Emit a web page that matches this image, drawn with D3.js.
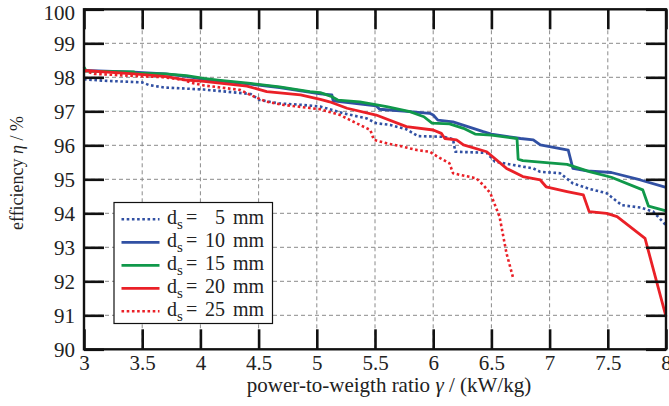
<!DOCTYPE html>
<html><head><meta charset="utf-8">
<script src="https://cdn.jsdelivr.net/npm/d3@7"></script>
<style>
html,body{margin:0;padding:0;background:#fff;}
svg{display:block;}
text{font-family:'Liberation Serif';}
</style></head>
<body><svg id="chart" width="669" height="406"></svg>
<script>
const xTicks = [3,3.5,4,4.5,5,5.5,6,6.5,7,7.5,8];
const yTicks = [90,91,92,93,94,95,96,97,98,99,100];
const seriesNames = ["5","10","15","20","25"];

const ds5 = [[3.00,97.94],[3.17,97.90],[3.50,97.85],[3.56,97.77],[3.69,97.70],[4.03,97.64],[4.43,97.51],[4.51,97.33],[4.68,97.23],[4.83,97.20],[5.03,97.14],[5.11,97.06],[5.23,96.94],[5.43,96.79],[5.51,96.65],[5.63,96.60],[5.77,96.47],[5.87,96.27],[6.09,96.25],[6.17,96.18],[6.19,95.81],[6.46,95.78],[6.53,95.52],[6.69,95.42],[6.86,95.32],[6.92,95.22],[7.09,95.18],[7.20,94.88],[7.35,94.71],[7.49,94.59],[7.62,94.24],[7.78,94.17],[7.89,94.05],[8.00,93.65]];
const ds10 = [[3.00,98.20],[3.43,98.15],[3.70,98.10],[3.88,98.03],[4.03,97.94],[4.43,97.80],[4.68,97.70],[5.03,97.51],[5.13,97.48],[5.14,97.31],[5.51,97.16],[5.54,97.06],[5.80,96.99],[5.97,96.94],[6.00,96.89],[6.04,96.74],[6.17,96.69],[6.43,96.40],[6.50,96.33],[6.75,96.20],[6.86,96.16],[6.92,96.01],[7.16,95.86],[7.20,95.32],[7.32,95.25],[7.53,95.20],[7.78,94.98],[8.00,94.76]];
const ds15 = [[3.00,98.30],[3.02,98.18],[3.43,98.16],[3.44,98.12],[3.70,98.10],[3.88,98.05],[4.03,97.97],[4.15,97.92],[4.43,97.82],[4.68,97.72],[4.94,97.58],[5.03,97.55],[5.13,97.43],[5.18,97.33],[5.37,97.28],[5.60,97.14],[5.80,96.99],[5.92,96.84],[5.99,96.65],[6.14,96.63],[6.26,96.50],[6.36,96.33],[6.50,96.30],[6.72,96.20],[6.73,95.59],[6.77,95.55],[6.97,95.49],[7.15,95.44],[7.35,95.22],[7.53,95.06],[7.80,94.69],[7.85,94.21],[8.00,94.07]];
const ds20 = [[3.00,98.20],[3.43,98.10],[3.71,98.02],[3.88,97.92],[4.03,97.88],[4.40,97.74],[4.57,97.58],[4.86,97.48],[5.03,97.35],[5.11,97.28],[5.26,97.09],[5.51,96.89],[5.77,96.55],[6.00,96.45],[6.07,96.35],[6.10,96.20],[6.20,96.16],[6.26,96.01],[6.46,95.81],[6.63,95.32],[6.77,95.08],[6.92,94.98],[6.97,94.78],[7.15,94.64],[7.29,94.54],[7.34,94.05],[7.49,94.00],[7.58,93.90],[7.82,93.26],[8.00,90.96]];
const ds25 = [[3.00,98.19],[3.09,98.10],[3.43,98.04],[3.69,98.00],[3.86,97.92],[3.92,97.84],[4.03,97.76],[4.34,97.63],[4.43,97.48],[4.57,97.28],[4.71,97.19],[5.03,97.06],[5.20,96.89],[5.34,96.65],[5.46,96.45],[5.49,96.16],[5.60,96.06],[5.74,95.96],[5.86,95.86],[5.97,95.81],[6.06,95.62],[6.14,95.47],[6.17,95.18],[6.23,95.13],[6.37,95.03],[6.43,94.83],[6.49,94.60],[6.57,93.90],[6.63,92.82],[6.69,92.06]];

const seriesData = [ds5, ds10, ds15, ds20, ds25];
const colors = ["#3150a3","#3150a3","#10984a","#ea2027","#ea2027"];
const dotted = [true,false,false,false,true];

const FONT = "'Liberation Serif'";
const svg = d3.select("#chart");
const L = 84, R = 666, T = 9.3, B = 349.3;
const x = d3.scaleLinear().domain([3,8]).range([L,R]);
const y = d3.scaleLinear().domain([90,100]).range([B,T]);

// grid
const grid = svg.append("g");
grid.selectAll("line.gx").data(xTicks.slice(1,-1)).enter().append("line")
  .attr("x1",d=>x(d)).attr("x2",d=>x(d)).attr("y1",T).attr("y2",B)
  .attr("stroke","#8a8a8a").attr("stroke-width",1).attr("stroke-dasharray","4,3");
grid.selectAll("line.gy").data(yTicks.slice(1,-1)).enter().append("line")
  .attr("y1",d=>y(d)).attr("y2",d=>y(d)).attr("x1",L).attr("x2",R)
  .attr("stroke","#8a8a8a").attr("stroke-width",1).attr("stroke-dasharray","4,3");

// series
const line = d3.line().x(d=>x(d[0])).y(d=>y(d[1]));
const plot = svg.append("g");
seriesData.forEach((s,i)=>{
  plot.append("path").datum(s).attr("d",line).attr("fill","none")
    .attr("stroke",colors[i]).attr("stroke-width",dotted[i]?2.6:2.8)
    .attr("stroke-linejoin","round")
    .attr("stroke-dasharray",dotted[i]?"2.6,2.6":null);
});

// axes
const fmt = d=>String(d);
const axL = svg.append("g").attr("transform",`translate(${L},0)`)
  .call(d3.axisLeft(y).tickValues(yTicks).tickFormat(fmt).tickSizeInner(-20).tickSizeOuter(0).tickPadding(9));
const axB = svg.append("g").attr("transform",`translate(0,${B})`)
  .call(d3.axisBottom(x).tickValues(xTicks).tickFormat(fmt).tickSizeInner(-20).tickSizeOuter(0).tickPadding(6));
const axR = svg.append("g").attr("transform",`translate(${R},0)`)
  .call(d3.axisRight(y).tickValues(yTicks).tickFormat("").tickSizeInner(-20).tickSizeOuter(0));
const axT = svg.append("g").attr("transform",`translate(0,${T})`)
  .call(d3.axisTop(x).tickValues(xTicks).tickFormat("").tickSizeInner(-20).tickSizeOuter(0));
[axL,axB,axR,axT].forEach(a=>{
  a.attr("font-family",null).attr("font-size",null);
  a.select(".domain").remove();
  a.selectAll(".tick line").attr("stroke","#111").attr("stroke-width",2.6);
  a.selectAll(".tick text").attr("fill","#222").style("font-size","21px").style("font-family",FONT);
});
// top label sits slightly lower so it is not clipped
axL.selectAll(".tick text").filter(d=>d===100).attr("dy","0.5em");
svg.append("rect").attr("x",L).attr("y",T).attr("width",R-L).attr("height",B-T)
  .attr("fill","none").attr("stroke","#111").attr("stroke-width",2.4);

// axis labels
const xl = svg.append("text").attr("x",389).attr("y",392).attr("text-anchor","middle")
  .style("font-size","21px").style("font-family",FONT).attr("fill","#222");
xl.append("tspan").text("power-to-weigth ratio ");
xl.append("tspan").attr("font-style","italic").text("γ");
xl.append("tspan").text(" / (kW/kg)");
const yl = svg.append("text").attr("transform","translate(23,173) rotate(-90)").attr("text-anchor","middle")
  .style("font-size","18px").style("font-family",FONT).attr("fill","#222");
yl.append("tspan").text("efficiency ");
yl.append("tspan").attr("font-style","italic").text("η");
yl.append("tspan").text(" / %");

// legend
const lg = svg.append("g");
lg.append("rect").attr("x",114).attr("y",202.5).attr("width",158.5).attr("height",121)
  .attr("fill","#fff").attr("stroke","#111").attr("stroke-width",1.2);
seriesNames.forEach((n,i)=>{
  const yy = 219.3 + i*23;
  lg.append("line").attr("x1",121.5).attr("x2",159.5).attr("y1",yy).attr("y2",yy)
    .attr("stroke",colors[i]).attr("stroke-width",dotted[i]?2.6:2.8)
    .attr("stroke-dasharray",dotted[i]?"2.6,2.6":null);
  const t = lg.append("text").attr("y",yy+5).style("font-size","20px").style("font-family",FONT).attr("fill","#222");
  t.append("tspan").attr("x",167).text("d");
  t.append("tspan").attr("dy",5).style("font-size","15px").text("s");
  lg.append("text").attr("x",186).attr("y",yy+5).style("font-size","20px").style("font-family",FONT).attr("fill","#222").text("=");
  lg.append("text").attr("x",225).attr("y",yy+5).attr("text-anchor","end").style("font-size","20px").style("font-family",FONT).attr("fill","#222").text(n);
  lg.append("text").attr("x",233).attr("y",yy+5).style("font-size","20px").style("font-family",FONT).attr("fill","#222").text("mm");
});
</script></body></html>
